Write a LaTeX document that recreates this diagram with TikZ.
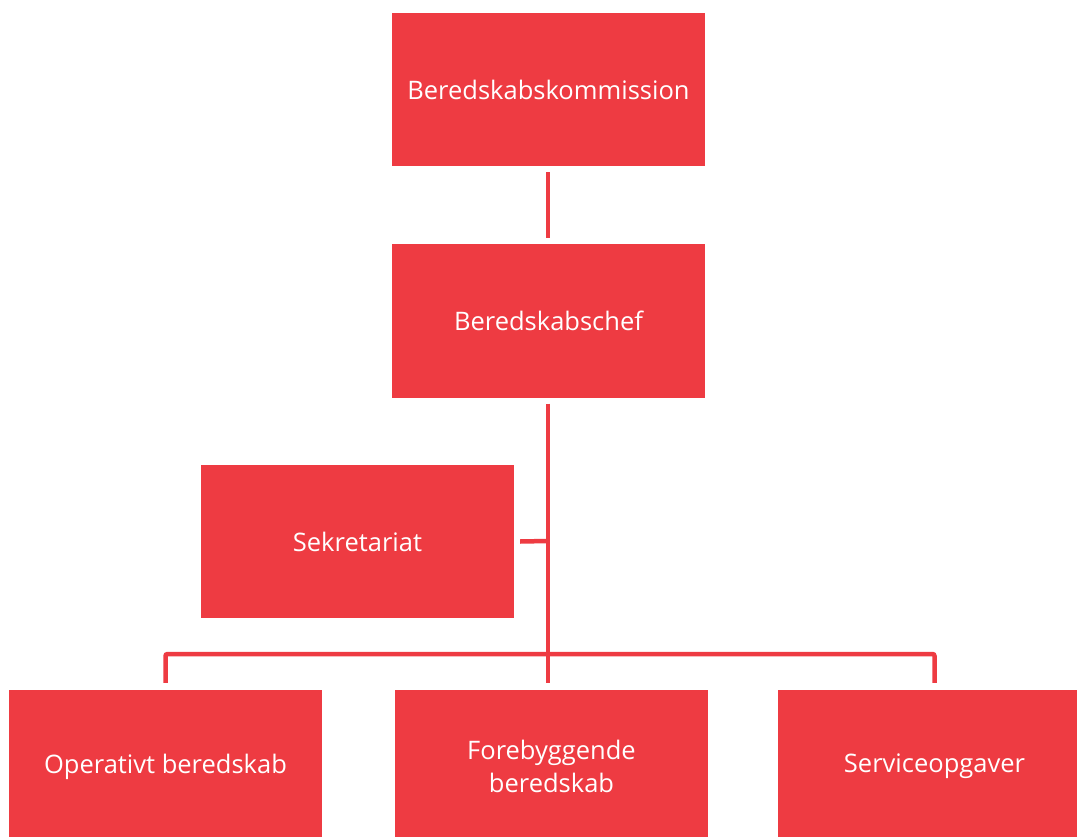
\documentclass[tikz,border=0pt]{standalone}
\usepackage{fontspec}
\setmainfont{Open Sans}
\definecolor{boxred}{RGB}{238,59,66}
\begin{document}
\begin{tikzpicture}[x=1pt,y=-1pt,
  orgbox/.style={fill=boxred,draw=none,minimum width=313pt,minimum height=153pt,
    text=white,font=\fontsize{25.5}{33}\selectfont,align=center,inner sep=0pt},
  conn/.style={draw=boxred,line width=4.5pt,rounded corners=2pt}]
\clip (0,0) rectangle (1077,837);
\useasboundingbox (0,0) rectangle (1077,837);
\node[orgbox] (kom) at (548.5,89.5) {Beredskabskommission};
\node[orgbox] (chef) at (548.5,321) {Beredskabschef};
\node[orgbox] (sek) at (357.5,541.5) {Sekretariat};
\node[orgbox] (op) at (165.5,766.5) {Operativt beredskab};
\node[orgbox] (fore) at (551.5,766.5) {Forebyggende\\beredskab};
\node[orgbox] (serv) at (934.5,766.5) {Serviceopgaver};
\coordinate (junc) at (548,541);
\coordinate (bar) at (548,654);
\draw[conn] ([yshift=-6pt]kom.south -| junc) -- ([yshift=6pt]chef.north -| junc);
\draw[conn] ([yshift=-6pt]chef.south -| junc) -- (bar);
\draw[conn] ([xshift=6pt]sek.east) -- (junc);
\draw[conn] ([yshift=7pt]op.north) -- (op.north |- bar) -- (serv.north |- bar) -- ([yshift=7pt]serv.north);
\draw[conn] (bar) -- ([yshift=7pt]fore.north -| bar);
\end{tikzpicture}
\end{document}
